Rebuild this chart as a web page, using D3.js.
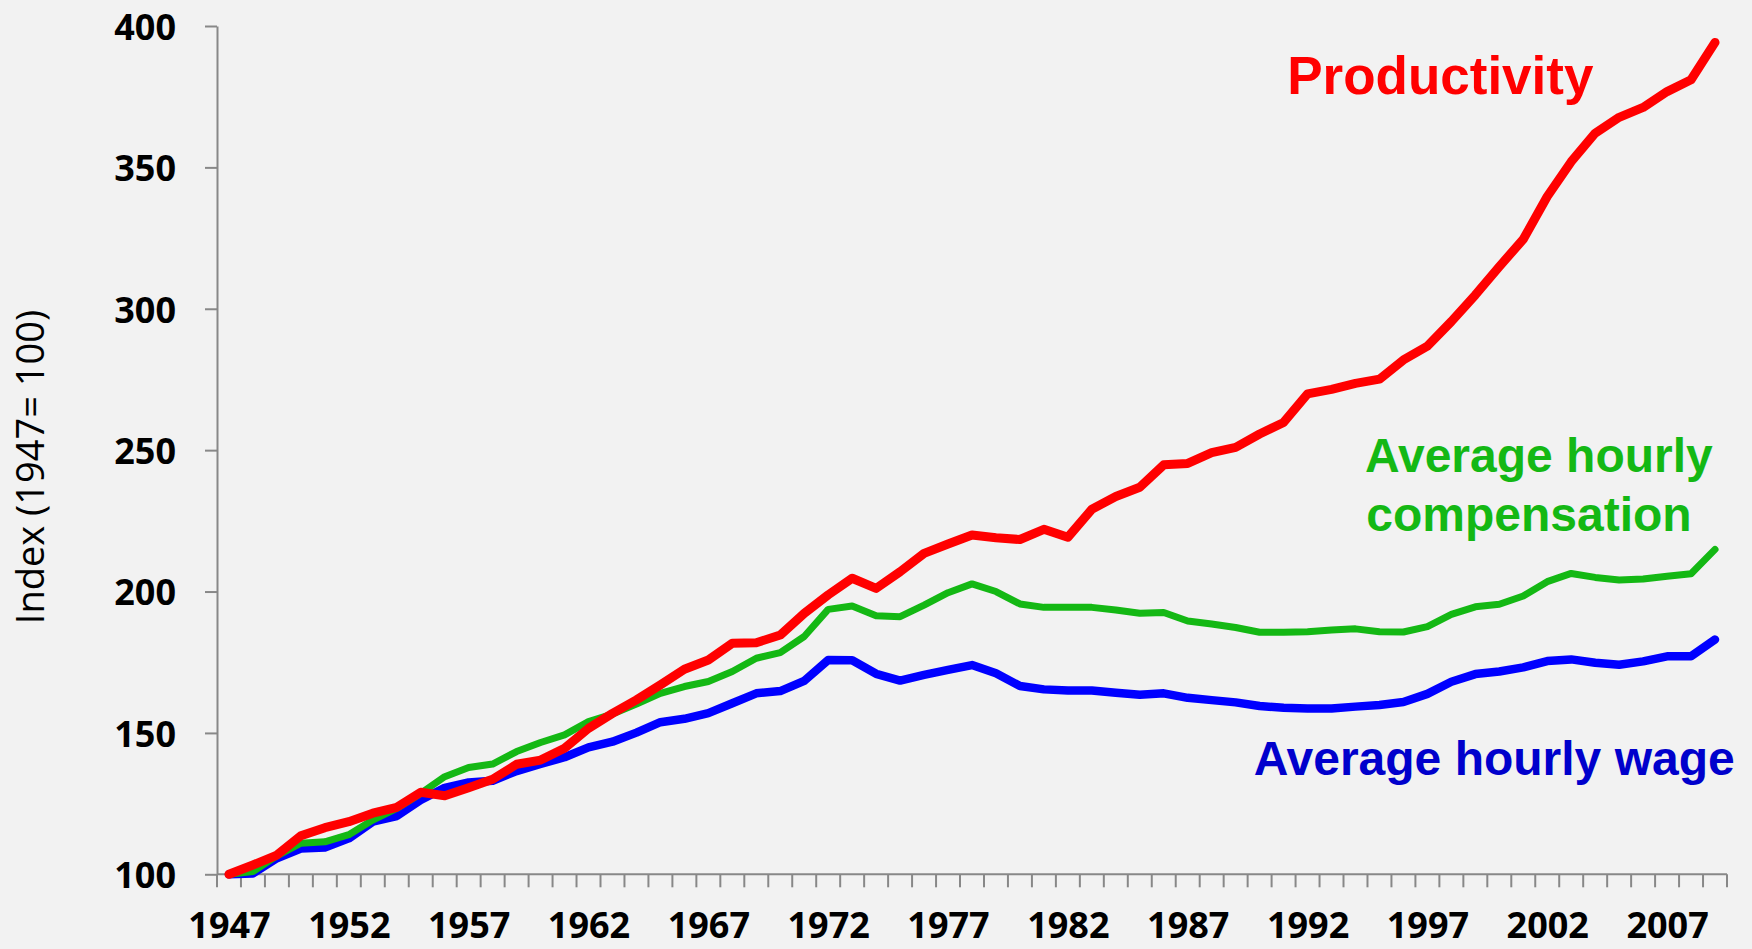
<!DOCTYPE html>
<html>
<head>
<meta charset="utf-8">
<script src="https://cdn.jsdelivr.net/npm/d3@7"></script>
<style>
  html, body { margin: 0; padding: 0; background: #f2f2f2; }
  svg { display: block; }
  .axis text { font-family: "Open Sans", sans-serif; font-weight: 700; font-size: 36px; fill: #000; }
  .axis path, .axis line { stroke: #888; stroke-width: 2; }
  .line { fill: none; stroke-linecap: round; stroke-linejoin: round; }
  .serie_label { font-family: "Liberation Sans", Arial, sans-serif; font-weight: 700; }
</style>
</head>
<body>
<div id="container"></div>
<script>
const width = 1752;
const height = 949;

// DATA
const years = d3.range(1947, 2010);

const productivity = [
    100, 103.3, 106.8, 113.6, 116.5, 118.6, 121.6, 123.7, 129, 127.8,
    130.6, 133.6, 138.9, 140.4, 144.6, 151.6, 156.9, 161.7, 167, 172.5,
    175.8, 181.7, 181.9, 184.6, 192.3, 198.8, 204.7, 201.1, 207, 213.5,
    216.8, 220, 219, 218.4, 222, 219.2, 229.1, 233.6, 236.9, 244.8,
    245.3, 249.1, 251, 255.7, 259.8, 269.9, 271.5, 273.6, 275.1, 281.9,
    286.8, 295.5, 304.9, 314.9, 324.6, 339.7, 352, 362.1, 367.7, 371.2,
    376.8, 381, 394.2
];

const compensation = [
    100, 101, 106.5, 111, 111.5, 114, 119.2, 123.3, 128.6, 134.5,
    137.8, 139, 143.4, 146.6, 149.3, 154, 156.7, 160.2, 164, 166.4,
    168.2, 171.7, 176.4, 178.4, 184.1, 193.7, 194.9, 191.4, 191.1, 195.2,
    199.6, 202.7, 200, 195.6, 194.4, 194.4, 194.4, 193.5, 192.3, 192.6,
    189.6, 188.5, 187.3, 185.6, 185.6, 185.8, 186.4, 186.8, 185.8, 185.7,
    187.6, 191.9, 194.6, 195.5, 198.4, 203.5, 206.4, 205, 204.1, 204.4,
    205.4, 206.3, 214.9
];

const wage = [
    100, 100.3, 105.7, 109.1, 109.5, 112.7, 118.6, 120.6, 126.3, 130.6,
    132.5, 133.1, 136.5, 139, 141.4, 144.9, 146.9, 150.1, 153.8, 155,
    157, 160.5, 164, 164.8, 168.4, 175.8, 175.7, 170.9, 168.5, 170.5,
    172.3, 174, 171.1, 166.6, 165.4, 165, 165, 164.2, 163.5, 164,
    162.4, 161.6, 160.8, 159.5, 158.9, 158.6, 158.6, 159.3, 159.9, 160.9,
    163.8, 168.1, 170.8, 171.7, 173.2, 175.4, 176, 174.8, 174.1, 175.3,
    177.1, 177.1, 183
];

const yTicks = [100, 150, 200, 250, 300, 350, 400];
const xTickLabels = d3.range(1947, 2010, 5);

const svg = d3.select("div#container").append("svg")
    .attr("width", width)
    .attr("height", height);

svg.append("rect")
    .attr("width", width)
    .attr("height", height)
    .attr("fill", "#f2f2f2");

// SCALES
const plotLeft = 217, plotRight = 1727, plotTop = 26, plotBottom = 874.3;

const xScale = d3.scalePoint().domain(years).range([plotLeft, plotRight]).padding(0.5);
const xBand = d3.scaleBand().domain(years).range([plotLeft, plotRight]);
const xYear = d3.scaleLinear()
    .domain([years[0], years[years.length - 1]])
    .range([xScale(years[0]), xScale(years[years.length - 1])]);
const yScale = d3.scaleLinear().domain([100, 400]).range([plotBottom, plotTop]);

// AXES
svg.append("g")
    .attr("class", "axis")
    .attr("transform", "translate(" + plotLeft + ",0)")
    .call(d3.axisLeft(yScale)
        .tickValues(yTicks)
        .tickSize(12)
        .tickSizeOuter(0)
        .tickPadding(29)
        .tickFormat(d3.format("d")))
    .selectAll(".tick text")
    .attr("dy", "0.37em");

// x axis: tick marks between categories, labels every 5 years
const boundaries = years.map(function (d) { return xBand(d); }).concat([plotRight]);

const xaxis = svg.append("g")
    .attr("class", "axis")
    .attr("transform", "translate(0," + plotBottom + ")");

xaxis.append("line")
    .attr("x1", plotLeft).attr("x2", plotRight)
    .attr("y1", 0).attr("y2", 0);

xaxis.selectAll(".tick-mark")
    .data(boundaries)
    .enter()
    .append("line")
    .attr("class", "tick-mark")
    .attr("x1", function (d) { return d; })
    .attr("x2", function (d) { return d; })
    .attr("y1", 0)
    .attr("y2", 13);

svg.append("g")
    .attr("class", "axis")
    .attr("transform", "translate(0," + plotBottom + ")")
    .call(d3.axisBottom(xScale)
        .tickValues(xTickLabels)
        .tickSize(0)
        .tickPadding(38))
    .call(function (g) { g.select(".domain").remove(); });

svg.append("text")
    .attr("transform", "translate(44,467) rotate(-90)")
    .style("text-anchor", "middle")
    .style("font-family", "'Open Sans', sans-serif")
    .style("font-size", "38px")
    .attr("fill", "#000")
    .text("Index (1947= 100)");

// LINES
const series = [
    { id: "wage", values: wage, color: "#0000ff", width: 8.5 },
    { id: "compensation", values: compensation, color: "#14b814", width: 7 },
    { id: "productivity", values: productivity, color: "#ff0000", width: 9 }
];

const line = d3.line()
    .x(function (d, i) { return xScale(years[i]); })
    .y(function (d) { return yScale(d); });

svg.selectAll(".line")
    .data(series)
    .enter()
    .append("path")
    .attr("class", "line")
    .attr("stroke", function (d) { return d.color; })
    .attr("stroke-width", function (d) { return d.width; })
    .attr("d", function (d) { return line(d.values); });

// LABELS
const labels = [
    { text: "Productivity", year: 1991.15, value: 376, color: "#ff0000", size: 53 },
    { text: "Average hourly", year: 1994.4, value: 242.2, color: "#14b814", size: 48 },
    { text: "compensation", year: 1994.45, value: 221.3, color: "#14b814", size: 48 },
    { text: "Average hourly wage", year: 1989.75, value: 135.1, color: "#0000cc", size: 48 }
];

svg.selectAll(".serie_label")
    .data(labels)
    .enter()
    .append("text")
    .attr("class", "serie_label")
    .attr("x", function (d) { return xYear(d.year); })
    .attr("y", function (d) { return yScale(d.value); })
    .style("text-anchor", "start")
    .style("font-size", function (d) { return d.size + "px"; })
    .attr("fill", function (d) { return d.color; })
    .text(function (d) { return d.text; });
</script>
</body>
</html>
